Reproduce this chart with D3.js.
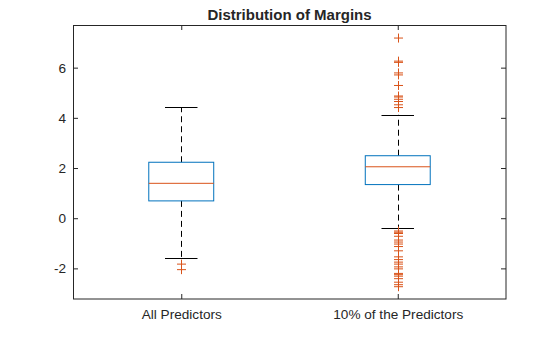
<!DOCTYPE html>
<html><head><meta charset="utf-8">
<script src="https://cdn.jsdelivr.net/npm/d3@7"></script>
<style>body{margin:0;background:#fff}svg{display:block}</style>
</head><body><svg id="c" width="560" height="337"></svg>
<script>
const categories = ["All Predictors", "10% of the Predictors"];
const q1 = [0.69, 1.34];
const medians = [1.39, 2.05];
const q3 = [2.23, 2.49];
const whiskerLow = [-1.57, -0.39];
const whiskerHigh = [4.43, 4.12];
const outliers1 = [-1.83, -2.05];
const outliers2 = [7.18, 6.26, 6.21, 5.79, 5.71, 5.29, 4.87, 4.83, 4.74, 4.65, 4.52, 4.41,
  -0.51, -0.56, -0.61, -0.72, -0.87, -0.95, -1.03, -1.13, -1.30, -1.54, -1.65, -1.75,
  -1.83, -1.94, -2.02, -2.20, -2.25, -2.31, -2.41, -2.55, -2.65, -2.73];
const outliers = [outliers1, outliers2];
const yTicks = [-2, 0, 2, 4, 6];
const title = "Distribution of Margins";

const L = 73, R = 506, T = 25, B = 299;
const ink = "#262626";
const font = "'Liberation Sans', Arial, Helvetica, sans-serif";
const svg = d3.select("#c");

const x = d3.scaleLinear().domain([0.5, 2.5]).range([L, R]);
const y = d3.scaleLinear().domain([-3.22, 7.70]).range([B, T]);
const pos = categories.map((c, i) => i + 1);
const boxHalf = 0.15, capHalf = 0.075;

// axes
const gL = svg.append("g").attr("transform", `translate(${L},0)`)
  .call(d3.axisLeft(y).tickValues(yTicks).tickSize(-5).tickPadding(7).tickFormat(d => String(d)));
const gR = svg.append("g").attr("transform", `translate(${R},0)`)
  .call(d3.axisRight(y).tickValues(yTicks).tickSize(-5).tickFormat(""));
const gB = svg.append("g").attr("transform", `translate(0,${B})`)
  .call(d3.axisBottom(x).tickValues(pos).tickSize(-5).tickPadding(10).tickFormat((d) => categories[d - 1]));
const gT = svg.append("g").attr("transform", `translate(0,${T})`)
  .call(d3.axisTop(x).tickValues(pos).tickSize(-5).tickFormat(""));
[gL, gR, gB, gT].forEach(g => {
  g.select(".domain").remove();
  g.selectAll(".tick line").attr("stroke", ink);
  g.selectAll("text").attr("fill", ink).style("font-family", font).style("font-size", "13.6px");
});
svg.append("rect").attr("x", L + 0.5).attr("y", T + 0.5).attr("width", R - L - 0.5).attr("height", B - T - 0.5)
  .attr("fill", "none").attr("stroke", ink).attr("stroke-width", 1);

const g = svg.append("g");
pos.forEach((p, i) => {
  const cx = Math.round(x(p)) + 0.5;
  // whiskers
  g.append("line").attr("x1", cx).attr("x2", cx).attr("y1", y(q3[i])).attr("y2", y(whiskerHigh[i]))
    .attr("stroke", "#000").attr("stroke-dasharray", "6,4");
  g.append("line").attr("x1", cx).attr("x2", cx).attr("y1", y(q1[i])).attr("y2", y(whiskerLow[i]))
    .attr("stroke", "#000").attr("stroke-dasharray", "6,4");
  [whiskerHigh[i], whiskerLow[i]].forEach(v => {
    g.append("line").attr("x1", x(p - capHalf)).attr("x2", x(p + capHalf))
      .attr("y1", Math.round(y(v)) + 0.5).attr("y2", Math.round(y(v)) + 0.5).attr("stroke", "#000");
  });
  // box
  g.append("rect").attr("x", x(p - boxHalf)).attr("width", x(p + boxHalf) - x(p - boxHalf))
    .attr("y", y(q3[i])).attr("height", y(q1[i]) - y(q3[i]))
    .attr("fill", "none").attr("stroke", "#0072BD");
  g.append("line").attr("x1", x(p - boxHalf)).attr("x2", x(p + boxHalf))
    .attr("y1", y(medians[i])).attr("y2", y(medians[i])).attr("stroke", "#D95319");
  // outliers
  outliers[i].forEach(v => {
    const yy = y(v);
    g.append("path").attr("d", `M${cx - 4.5},${yy}H${cx + 4.5}M${cx},${yy - 4.5}V${yy + 4.5}`)
      .attr("stroke", "#D95319").attr("fill", "none");
  });
});

svg.append("text").attr("x", (L + R) / 2).attr("y", 19.5).attr("text-anchor", "middle")
  .attr("fill", ink).style("font-family", font).style("font-size", "15px").style("font-weight", "bold")
  .text(title);
</script></body></html>
